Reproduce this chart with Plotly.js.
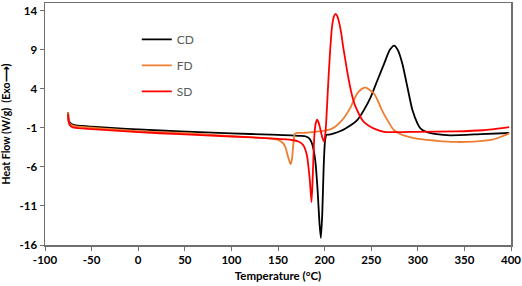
<!DOCTYPE html>
<html>
<head>
<meta charset="utf-8">
<script src="https://cdn.plot.ly/plotly-3.0.1.min.js"></script>
<style>html,body{margin:0;padding:0;background:#fff;}#chart{width:522px;height:286px;}</style>
</head>
<body>
<div id="chart"></div>
<script>
// CD (black)
const cdT = [-75.2,-74.8,-74,-72,-70,-67,-60,-50,-25,0,45,100,142,174,180,184,187,190,192.5,194.5,196,197.5,199,200.5,202,205,210,217,222,228,235,242,249.5,256.7,263.8,270,274.6,278.5,283.5,288.9,294.3,299.7,303,310,320,335,368,398];
const cdV = [1.0,0.2,-0.2,-0.45,-0.58,-0.67,-0.75,-0.85,-1.02,-1.2,-1.45,-1.7,-1.86,-2.02,-2.1,-2.4,-3.2,-5.2,-9,-13.2,-15.1,-12,-6,-2.6,-1.9,-1.85,-1.7,-1.4,-1.1,-0.67,0,1.25,2.95,5.1,7.2,9.0,9.55,9.0,7.2,4.2,1.25,-0.45,-1.1,-1.55,-1.8,-1.95,-1.8,-1.65];
// FD (orange)
const fdT = [-75.2,-74.8,-74,-72,-70,-67,-60,-50,-25,0,45,100,140,150,155,158,161,163.5,165,166.5,168,170,180,190,200,206,212,217,222,228,235,240,244,248,253,257,260,264,267.4,274.5,285,303,320,340,360,380,390,398];
const fdV = [1.0,0.0,-0.35,-0.6,-0.72,-0.8,-0.88,-0.98,-1.2,-1.4,-1.65,-2.05,-2.35,-2.55,-2.9,-3.5,-4.8,-5.65,-5.0,-3.0,-1.8,-1.65,-1.62,-1.5,-1.35,-1.2,-0.8,-0.24,0.5,1.67,3.4,4.0,4.15,3.9,3.4,2.5,1.67,0.7,0.0,-1.3,-1.95,-2.45,-2.65,-2.8,-2.75,-2.5,-2.1,-1.7];
// SD (red)
const sdT = [-75.2,-74.8,-74,-72,-70,-67,-60,-50,-25,0,45,100,147,165,172,177,181,184,186,187.5,189,190.5,192,193.5,195.5,197.5,199.5,201,202.5,204,206,208,210,212,214,216,218,220,222,224,226,228,230,232,235,238,242,247,253,264,300,340,370,398];
const sdV = [0.8,-0.1,-0.5,-0.8,-0.93,-1.0,-1.07,-1.15,-1.35,-1.55,-1.8,-2.1,-2.37,-2.55,-2.75,-3.2,-4.5,-7.5,-10.5,-6.5,-2.0,-0.4,0.06,-0.3,-1.2,-2.2,-2.75,-1.5,1.5,5.0,9.0,12.0,13.3,13.6,13.2,12.3,11.0,9.3,7.9,6.4,5.1,3.9,2.9,2.1,1.25,0.5,-0.24,-0.7,-1.1,-1.5,-1.5,-1.45,-1.3,-0.9];

const seriesNames = ['CD','FD','SD'];
const seriesColors = ['#000000','#ED7D31','#FF0000'];
const xTickVals = [-100,-50,0,50,100,150,200,250,300,350,400];
const xTickText = ['-100','-50','0','50','100','150','200','250','300','350','400'];
const yTickVals = [-16,-11,-6,-1,4,9,14];
const yTickText = ['-16','-11','-6','-1','4','9','14'];

const xs = [cdT, fdT, sdT];
const ys = [cdV, fdV, sdV];
const traces = xs.map((x, i) => ({
  x: x, y: ys[i], type: 'scatter', mode: 'lines', name: seriesNames[i],
  legendgroup: 'g' + i,
  line: {color: seriesColors[i], width: 1.8, shape: 'spline', smoothing: 0.6}
}));

const FONT = 'Lato, "Open Sans", Arial, sans-serif';
const bold = a => a.map(s => '<b>' + s + '</b>');
const layout = {
  width: 522, height: 286,
  margin: {l: 45, r: 11, t: 3, b: 41},
  paper_bgcolor: '#fff', plot_bgcolor: '#fff',
  font: {family: FONT, size: 11, color: '#000'},
  showlegend: true,
  legend: {
    x: 0.197, y: 0.91, xanchor: 'left', yanchor: 'top',
    bgcolor: 'rgba(0,0,0,0)', tracegroupgap: 7,
    font: {family: FONT, size: 12, color: '#595959'}
  },
  xaxis: {
    range: [-100, 400], tickmode: 'array', tickvals: xTickVals, ticktext: bold(xTickText),
    showgrid: false, zeroline: false, showline: true, mirror: true,
    linecolor: '#6f6f6f', linewidth: 1.5,
    ticks: 'outside', ticklen: 4, tickcolor: '#6f6f6f',
    tickfont: {family: FONT, size: 11.5, color: '#000'},
    title: {text: '<b>Temperature (°C)</b>', font: {family: FONT, size: 11.5, color: '#000'}, standoff: 6}
  },
  yaxis: {
    range: [-16, 15], tickmode: 'array', tickvals: yTickVals, ticktext: bold(yTickText),
    showgrid: false, zeroline: false, showline: true, mirror: true,
    linecolor: '#6f6f6f', linewidth: 1.5,
    ticks: 'outside', ticklen: 4, tickcolor: '#6f6f6f',
    tickfont: {family: FONT, size: 11.5, color: '#000'},
    title: {text: '<b>Heat Flow (W/g)  (Exo⟶)</b>', font: {family: FONT, size: 10.5, color: '#000'}, standoff: 9}
  }
};

Plotly.newPlot('chart', traces, layout, {displayModeBar: false, staticPlot: true});
</script>
</body>
</html>
